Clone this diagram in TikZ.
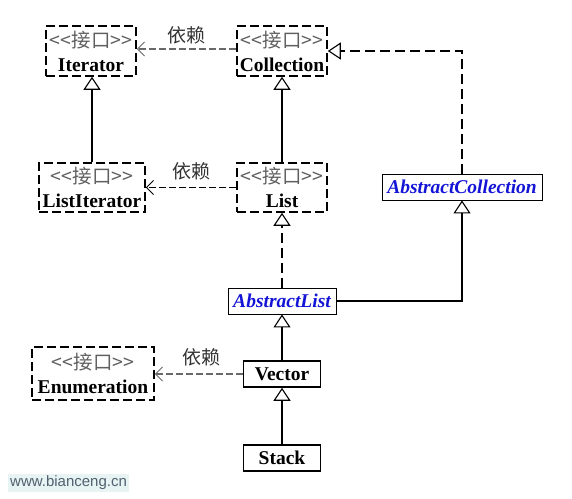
\documentclass[tikz,border=0pt]{standalone}
\usepackage{fontspec}
\setmainfont{Liberation Serif}
\newfontfamily\cjk{Noto Sans CJK SC}
\newfontfamily\websans{Liberation Sans}
\usetikzlibrary{arrows.meta}
\definecolor{depgray}{RGB}{105,105,105}
\definecolor{stereogray}{RGB}{95,95,95}
\definecolor{absblue}{RGB}{20,20,215}
\definecolor{wmbg}{RGB}{232,244,244}
\definecolor{wmtext}{RGB}{80,96,112}
\newcommand\ifacetext[1]{{\cjk\color{stereogray}<<接口>>}\\\textbf{#1}}

\begin{document}
\begin{tikzpicture}[x=1pt, y=-1pt,
  font=\fontsize{19.5}{24}\selectfont,
  iface/.style={draw, line width=1.6pt, dash pattern=on 9pt off 4pt, align=center,
    inner sep=0pt, minimum height=50pt},
  klass/.style={draw, line width=1.6pt, inner sep=0pt, minimum height=26pt,
    font=\fontsize{19.5}{24}\selectfont\bfseries},
  abstractklass/.style={draw, line width=0.9pt, inner sep=0pt, minimum height=26pt,
    text=absblue, font=\fontsize{19.5}{24}\selectfont\bfseries\itshape},
  inherit/.style={line width=1.6pt, -{Triangle[open, length=13pt, width=17pt, line width=1.1pt]}},
  realize/.style={inherit, dash pattern=on 10pt off 5pt},
  depend/.style={depgray, line width=1.4pt, dash pattern=on 7pt off 3pt,
    -{Straight Barb[length=7pt, width=14pt, line width=1pt]}},
  deplabel/.style={font=\cjk\fontsize{19}{22}\selectfont, text=black!80}
]
  \useasboundingbox (0,0) rectangle (572,498);

  % Interfaces
  \node[iface, minimum width=90pt] (iter) at (91,51) {\ifacetext{Iterator}};
  \node[iface, minimum width=90pt] (coll) at (282,51) {\ifacetext{Collection}};
  \node[iface, minimum width=106pt, minimum height=49pt] (listiter) at (92,187.5) {\ifacetext{ListIterator}};
  \node[iface, minimum width=90pt, minimum height=49pt] (list) at (282,187.5) {\ifacetext{List}};
  \node[iface, minimum width=122pt, minimum height=53pt] (enum) at (93,373.5) {\ifacetext{Enumeration}};

  % Classes
  \node[abstractklass, minimum width=160pt] (abscoll) at (462,187) {AbstractCollection};
  \node[abstractklass, minimum width=108pt] (abslist) at (282,301) {AbstractList};
  \node[klass, minimum width=77pt] (vector) at (282,374) {Vector};
  \node[klass, minimum width=77pt] (stack) at (282,458) {Stack};

  % Dependencies
  \draw[depend] (coll.west |- 0,49) -- (iter.east |- 0,49)
    node[deplabel, midway, above=1pt] {依赖};
  \draw[depend, black, line width=1pt] (list.west) -- (listiter.east)
    node[deplabel, midway, above=4pt] {依赖};
  \draw[depend] (vector.west) -- (enum.east |- vector.west)
    node[deplabel, midway, above=4pt, xshift=3pt] {依赖};

  % Generalization / realization
  \draw[inherit] (listiter.north) -- (listiter.north |- iter.south);
  \draw[inherit] (list.north) -- (coll.south);
  \draw[realize] (abscoll.north) |- (coll.east);
  \draw[realize] (abslist.north) -- (list.south);
  \draw[inherit] (abslist.east) -| (abscoll.south);
  \draw[inherit] (vector.north) -- (abslist.south);
  \draw[inherit] (stack.north) -- (vector.south);

  % Watermark
  \node[fill=wmbg, text=wmtext, font=\websans\fontsize{15}{18}\selectfont,
    inner sep=2pt, anchor=west] (mark) at (8,483) {www.bianceng.cn};
\end{tikzpicture}
\end{document}
